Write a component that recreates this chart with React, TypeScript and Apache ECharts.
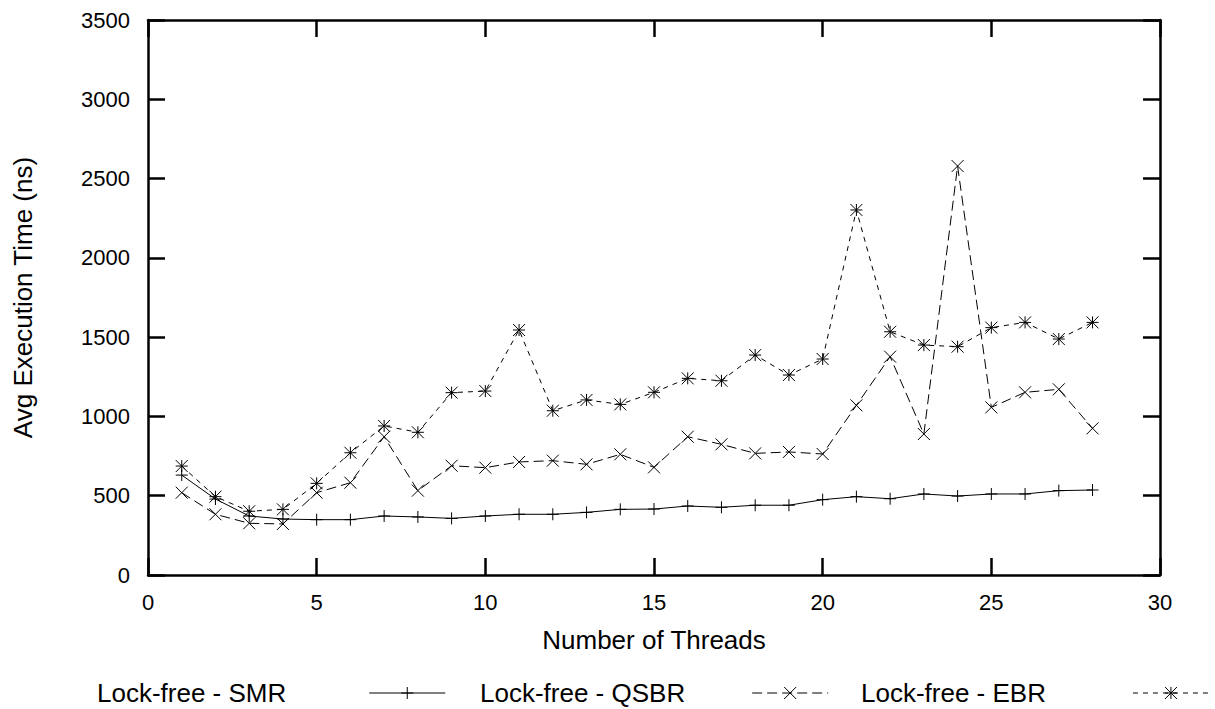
import { useEffect, useRef } from 'react';
import * as echarts from 'echarts';

// Thread counts on the x axis
const threads = [1, 2, 3, 4, 5, 6, 7, 8, 9, 10, 11, 12, 13, 14, 15, 16, 17, 18, 19, 20, 21, 22, 23, 24, 25, 26, 27, 28];

// Average execution time (ns) per reclamation scheme
const smrTimes = [630, 479, 372, 353, 349, 349, 372, 366, 357, 372, 383, 383, 395, 414, 416, 435, 427, 440, 440, 475, 494, 481, 511, 498, 511, 511, 532, 536];
const qsbrTimes = [519, 383, 326, 322, 519, 582, 872, 532, 689, 677, 713, 721, 698, 761, 679, 872, 824, 767, 776, 763, 1070, 1377, 889, 2579, 1057, 1152, 1171, 925];
const ebrTimes = [687, 494, 402, 414, 578, 771, 940, 900, 1150, 1160, 1545, 1036, 1104, 1076, 1152, 1240, 1225, 1387, 1261, 1362, 2302, 1534, 1450, 1440, 1560, 1593, 1488, 1593];

const seriesNames = ['Lock-free - SMR', 'Lock-free - QSBR', 'Lock-free - EBR'];

// Axis ranges
const xRange = { min: 0, max: 30, interval: 5 };
const yRange = { min: 0, max: 3500, interval: 500 };

const FONT = '"Liberation Sans", Arial, Helvetica, sans-serif';

// gnuplot-like point types drawn as stroked paths
const PLUS = 'path://M0,5L10,5M5,0L5,10';
const CROSS = 'path://M0,0L10,10M10,0L0,10';
const STAR = 'path://M0,5L10,5M5,0L5,10M0,0L10,10M10,0L0,10';

const dashes: (number[] | 'solid')[] = ['solid', [10, 5], [5, 5]];
const symbols = [PLUS, CROSS, STAR];

export default function App() {
  const ref = useRef<HTMLDivElement>(null);

  useEffect(() => {
    if (!ref.current) return;
    const chart = echarts.init(ref.current, undefined, { renderer: 'svg' });

    const pointStyle = { color: 'rgba(0,0,0,0)', borderColor: '#000', borderWidth: 1 };
    const axisLine = { show: true, onZero: false, lineStyle: { color: '#000', width: 2.5 } };
    // negative length draws the ticks towards the plot area
    const axisTick = { show: true, inside: false, length: -17, lineStyle: { color: '#000', width: 2.5 } };
    const tickLabel = {
      color: '#000',
      fontSize: 22,
      fontFamily: FONT,
      formatter: (v: number) => String(v),
    };
    const nameStyle = { color: '#000', fontSize: 26, fontFamily: FONT };

    const makeSeries = (i: number, values: number[]) => ({
      name: seriesNames[i],
      type: 'line',
      xAxisIndex: 0,
      yAxisIndex: 0,
      data: threads.map((t, k) => [t, values[k]]),
      symbol: symbols[i],
      symbolSize: 12,
      showSymbol: true,
      itemStyle: pointStyle,
      lineStyle: { color: '#000', width: 1, type: dashes[i] },
      emphasis: { disabled: true },
    });

    const legendPads = [78, 62, 82];
    const legendLefts = [97, 480, 861];
    const legends = seriesNames.map((name, i) => ({
      data: [name],
      left: legendLefts[i],
      top: 680,
      orient: 'horizontal',
      align: 'right',
      padding: 0,
      itemWidth: 76,
      itemHeight: 15,
      selectedMode: false,
      itemStyle: pointStyle,
      lineStyle: { color: '#000', width: 1, type: dashes[i] },
      textStyle: { color: '#000', fontSize: 26, fontFamily: FONT, padding: [0, legendPads[i], 0, 0] },
    }));

    chart.setOption({
      animation: false,
      backgroundColor: '#fff',
      textStyle: { fontFamily: FONT },
      grid: { left: 148, right: 55, top: 20, bottom: 134 },
      legend: legends,
      xAxis: [
        {
          type: 'value',
          position: 'bottom',
          ...xRange,
          name: 'Number of Threads',
          nameLocation: 'middle',
          nameGap: 52,
          nameTextStyle: nameStyle,
          axisLine,
          axisTick,
          axisLabel: { ...tickLabel, margin: 16 },
          splitLine: { show: false },
        },
        {
          type: 'value',
          position: 'top',
          ...xRange,
          axisLine,
          axisTick,
          axisLabel: { show: false },
          splitLine: { show: false },
        },
      ],
      yAxis: [
        {
          type: 'value',
          position: 'left',
          ...yRange,
          name: 'Avg Execution Time (ns)',
          nameLocation: 'middle',
          nameGap: 112,
          nameTextStyle: nameStyle,
          axisLine,
          axisTick,
          axisLabel: { ...tickLabel, margin: 18 },
          splitLine: { show: false },
        },
        {
          type: 'value',
          position: 'right',
          ...yRange,
          axisLine,
          axisTick,
          axisLabel: { show: false },
          splitLine: { show: false },
        },
      ],
      series: [makeSeries(0, smrTimes), makeSeries(1, qsbrTimes), makeSeries(2, ebrTimes)],
    });

    return () => chart.dispose();
  }, []);

  return (
    <div
      ref={ref}
      style={{ position: 'fixed', left: 0, top: 0, width: 1215, height: 709, background: '#fff' }}
    />
  );
}
